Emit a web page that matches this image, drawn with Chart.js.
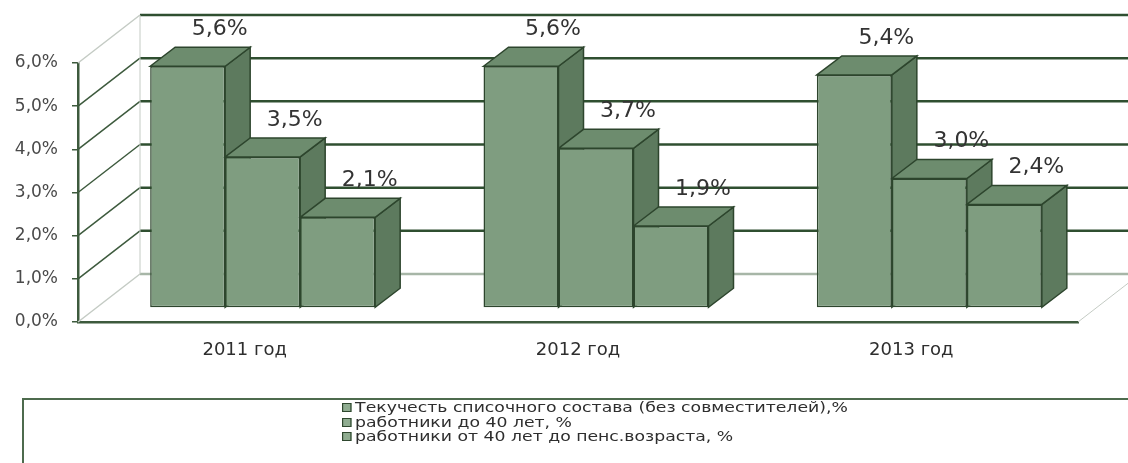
<!DOCTYPE html>
<html>
<head>
<meta charset="utf-8">
<script src="https://cdn.jsdelivr.net/npm/chart.js@4.4.1/dist/chart.umd.min.js"></script>
<style>
  html, body { margin: 0; padding: 0; background: #fff; }
  #wrap { position: relative; width: 1128px; height: 463px; overflow: hidden; }
  #chart { position: absolute; left: 0; top: 0; }
  #legend {
    position: absolute; left: 22px; top: 398px; width: 1120px; height: 90px;
    border: 2px solid #4d6b4d; border-right: none; box-sizing: border-box;
  }
  .item {
    position: absolute; left: 318px; height: 14px; line-height: 14px;
    font-family: "DejaVu Sans", sans-serif; font-size: 14.5px; color: #2e2e2e;
    white-space: nowrap; transform: scaleX(1.19); transform-origin: 0 50%;
  }
  .item i {
    display: inline-block; width: 6px; height: 7px; margin-right: 3px;
    border: 1.5px solid #2e472e; background: #8fac90; vertical-align: 0px;
  }
</style>
</head>
<body>
<div id="wrap">
  <canvas id="chart" width="1128" height="463"></canvas>
  <div id="legend"></div>
</div>
<script>
// --- Data ---
const categories = ['2011 год', '2012 год', '2013 год'];
const seriesNames = [
    'Текучесть списочного состава (без совместителей),%',
    'работники до 40 лет, %',
    'работники от 40 лет до пенс.возраста, %'
];
const turnoverTotal = [5.6, 5.6, 5.4];
const under40 = [3.5, 3.7, 3.0];
const from40ToPension = [2.1, 1.9, 2.4];
const yTickValues = [0, 1, 2, 3, 4, 5, 6];

// --- 3D look ---
const WALL_DX = 62, WALL_DY = -48;   // back wall offset from the front axis
const BAR_DX = 18, BAR_DY = -14;     // bar front plane offset
const DEPTH_DX = 25, DEPTH_DY = -19; // bar depth
const FRONT = '#7f9d80', SIDE = '#5d7a5e', TOP = '#6d8c6e', EDGE = '#2d452d';

const fmt = v => v.toFixed(1).replace('.', ',') + '%';

const depthPlugin = {
    id: 'depth3d',
    beforeDatasetsDraw(chart) {
        const { ctx, chartArea: a, scales: { y } } = chart;
        ctx.save();
        // back wall grid + diagonals
        yTickValues.forEach(v => {
            const py = y.getPixelForValue(v);
            ctx.beginPath();
            ctx.lineWidth = 1.5;
            ctx.strokeStyle = (v === 0 || v === 6) ? '#c4cbc4' : '#3d5a3d';
            ctx.moveTo(a.left, py);
            ctx.lineTo(a.left + WALL_DX, py + WALL_DY);
            ctx.stroke();
            ctx.beginPath();
            ctx.lineWidth = 2.5;
            ctx.strokeStyle = v === 0 ? '#a7b6a7' : '#2f4f30';
            ctx.moveTo(a.left + WALL_DX, py + WALL_DY);
            ctx.lineTo(chart.width, py + WALL_DY);
            ctx.stroke();
        });
        ctx.beginPath();
        ctx.lineWidth = 1;
        ctx.strokeStyle = '#c4cbc4';
        ctx.moveTo(a.left + WALL_DX, y.getPixelForValue(6) + WALL_DY);
        ctx.lineTo(a.left + WALL_DX, y.getPixelForValue(0) + WALL_DY);
        ctx.moveTo(a.right, a.bottom);
        ctx.lineTo(a.right + WALL_DX, a.bottom + WALL_DY);
        ctx.stroke();
        ctx.restore();

        // side and top faces of the bars
        ctx.save();
        ctx.translate(BAR_DX, BAR_DY);
        ctx.lineWidth = 1.5;
        ctx.strokeStyle = EDGE;
        categories.forEach((c, i) => {
            chart.data.datasets.forEach((ds, d) => {
                const el = chart.getDatasetMeta(d).data[i];
                const l = el.x - el.width / 2, r = el.x + el.width / 2;
                ctx.fillStyle = SIDE;
                ctx.beginPath();
                ctx.moveTo(r, el.y);
                ctx.lineTo(r + DEPTH_DX, el.y + DEPTH_DY);
                ctx.lineTo(r + DEPTH_DX, el.base + DEPTH_DY);
                ctx.lineTo(r, el.base);
                ctx.closePath();
                ctx.fill(); ctx.stroke();
                ctx.fillStyle = TOP;
                ctx.beginPath();
                ctx.moveTo(l, el.y);
                ctx.lineTo(l + DEPTH_DX, el.y + DEPTH_DY);
                ctx.lineTo(r + DEPTH_DX, el.y + DEPTH_DY);
                ctx.lineTo(r, el.y);
                ctx.closePath();
                ctx.fill(); ctx.stroke();
            });
        });
        ctx.restore();

        // front faces are drawn by Chart.js in the bar plane
        ctx.save();
        ctx.translate(BAR_DX, BAR_DY);
    },
    afterDatasetsDraw(chart) {
        const { ctx } = chart;
        ctx.restore();
        ctx.save();
        ctx.font = '22px "DejaVu Sans"';
        ctx.fillStyle = '#333';
        ctx.textAlign = 'center';
        ctx.textBaseline = 'middle';
        chart.data.datasets.forEach((ds, d) => {
            chart.getDatasetMeta(d).data.forEach((el, i) => {
                ctx.fillText(fmt(ds.data[i]), el.x + BAR_DX + 32, el.y + BAR_DY - 37);
            });
        });
        ctx.restore();
    }
};

const datasets = [turnoverTotal, under40, from40ToPension].map((data, i) => ({
    label: seriesNames[i],
    data: data,
    backgroundColor: FRONT,
    borderColor: EDGE,
    borderWidth: 1.5,
    borderSkipped: false,
    clip: false
}));

new Chart(document.getElementById('chart'), {
    type: 'bar',
    data: { labels: categories, datasets: datasets },
    plugins: [depthPlugin],
    options: {
        responsive: false,
        animation: false,
        devicePixelRatio: 1,
        layout: { padding: { top: 63, right: 50, left: 0, bottom: 0 } },
        datasets: { bar: { categoryPercentage: 0.675, barPercentage: 1.0 } },
        plugins: { legend: { display: false }, tooltip: { enabled: false } },
        scales: {
            x: {
                afterFit: s => { s.height = 141; },
                grid: { display: false, drawTicks: false },
                border: { display: true, color: '#3d5a3d', width: 2.5 },
                ticks: { color: '#2e2e2e', font: { family: 'DejaVu Sans', size: 18 }, padding: 18 }
            },
            y: {
                min: 0, max: 6,
                afterFit: s => { s.width = 78; },
                afterBuildTicks: s => { s.ticks = yTickValues.map(v => ({ value: v })); },
                grid: { drawOnChartArea: false, drawTicks: true, tickLength: 6, color: '#3d5a3d', lineWidth: 1.5 },
                border: { display: true, color: '#3d5a3d', width: 2.5 },
                ticks: { color: '#4a4a4a', font: { family: 'DejaVu Sans', size: 17 }, padding: 14, callback: v => fmt(v) }
            }
        }
    }
});

// --- Legend ---
const legend = document.getElementById('legend');
seriesNames.forEach((name, i) => {
    const row = document.createElement('div');
    row.className = 'item';
    row.style.top = (i * 14.5) + 'px';
    row.innerHTML = '<i></i>' + name;
    legend.appendChild(row);
});
</script>
</body>
</html>
